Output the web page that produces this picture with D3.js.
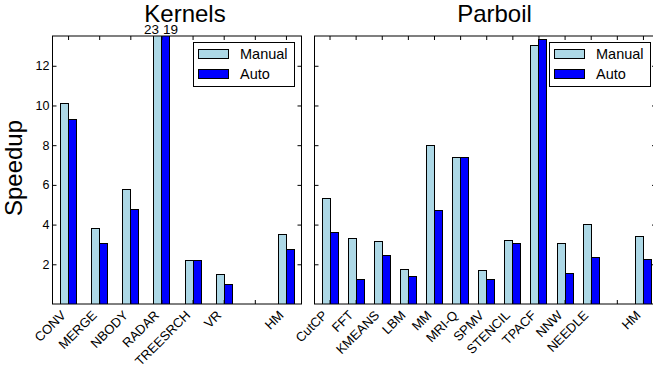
<!DOCTYPE html>
<html>
<head>
<meta charset="utf-8">
<script src="https://cdn.jsdelivr.net/npm/d3@7"></script>
<style>
  body { margin: 0; background: #fff; }
  svg { font-family: "Liberation Sans", Arial, Helvetica, sans-serif; }
</style>
</head>
<body>
<div id="chart"></div>
<script>
// kernels panel
var kernelNames = ["CONV", "MERGE", "NBODY", "RADAR", "TREESRCH", "VR", "", "HM"];
var kernelManual = [10.14, 3.85, 5.81, 23, 2.21, 1.49, 0, 3.53];
var kernelAuto = [9.33, 3.05, 4.81, 19, 2.21, 0.99, 0, 2.78];

// parboil panel
var parboilNames = ["CutCP", "FFT", "KMEANS", "LBM", "MM", "MRI-Q", "SPMV", "STENCIL", "TPACF", "NNW", "NEEDLE", "", "HM"];
var parboilManual = [5.36, 3.30, 3.17, 1.74, 8.01, 7.40, 1.72, 3.22, 13.05, 3.05, 4.02, 0, 3.45];
var parboilAuto = [3.62, 1.26, 2.45, 1.42, 4.76, 7.40, 1.27, 3.08, 13.35, 1.54, 2.36, 0, 2.28];

var yTicks = [2, 4, 6, 8, 10, 12];
var seriesNames = ["Manual", "Auto"];
var seriesColors = ["#add8e6", "#0000ff"];

var w = 653, h = 368;
var plotTop = 36, plotBottom = 304;
var barW = 8;

var svg = d3.select("#chart").append("svg")
    .attr("width", w)
    .attr("height", h);

var yScale = d3.scaleLinear()
    .domain([0, 13.5])
    .range([plotBottom, plotTop]);

// one panel = one set of axes
function panel(names, manual, auto, x0, x1, dom, title, titleX, legendX, showYLabels) {
  var xScale = d3.scaleLinear()
      .domain(dom)
      .range([x0, x1]);

  var g = svg.append("g");

  g.append("defs").append("clipPath")
      .attr("id", "clip-" + title)
    .append("rect")
      .attr("x", x0).attr("y", plotTop)
      .attr("width", x1 - x0).attr("height", plotBottom - plotTop);

  var bars = g.append("g").attr("clip-path", "url(#clip-" + title + ")");
  var idx = d3.range(names.length);

  [manual, auto].forEach(function(vals, s) {
    bars.selectAll(".b" + s)
        .data(idx.filter(function(i) { return vals[i] > 0; }))
        .enter()
        .append("rect")
        .attr("x", function(i) { return Math.round(xScale(i)) + 0.5 + (s == 0 ? -barW : 0); })
        .attr("y", function(i) { return Math.round(yScale(vals[i])) + 0.5; })
        .attr("width", barW)
        .attr("height", function(i) { return plotBottom - Math.round(yScale(vals[i])); })
        .attr("fill", seriesColors[s])
        .attr("stroke", "#000")
        .attr("stroke-width", 1);
  });

  // values that go past the top
  idx.forEach(function(i) {
    if (manual[i] > 13.5) {
      g.append("text").attr("x", xScale(i) - 2.5).attr("y", plotTop - 2.5)
        .attr("text-anchor", "end").attr("font-size", 13.5).text(manual[i]);
    }
    if (auto[i] > 13.5) {
      g.append("text").attr("x", xScale(i) + 1.5).attr("y", plotTop - 2.5)
        .attr("text-anchor", "start").attr("font-size", 13.5).text(auto[i]);
    }
  });

  // inward ticks on all sides
  var xb = d3.axisTop(xScale).tickValues(idx).tickSize(4).tickFormat("");
  g.append("g").attr("transform", "translate(0," + plotBottom + ")").call(xb);
  var xt = d3.axisBottom(xScale).tickValues(idx).tickSize(4).tickFormat("");
  g.append("g").attr("transform", "translate(0," + plotTop + ")").call(xt);
  var yl = d3.axisRight(yScale).tickValues(yTicks).tickSize(4).tickFormat("");
  g.append("g").attr("transform", "translate(" + x0 + ",0)").call(yl);
  var yr = d3.axisLeft(yScale).tickValues(yTicks).tickSize(4).tickFormat("");
  g.append("g").attr("transform", "translate(" + x1 + ",0)").call(yr);
  g.selectAll(".domain").remove();

  g.append("rect")
      .attr("x", x0).attr("y", plotTop)
      .attr("width", x1 - x0).attr("height", plotBottom - plotTop)
      .attr("fill", "none").attr("stroke", "#000").attr("stroke-width", 1);

  if (showYLabels) {
    g.selectAll(".ylab")
        .data(yTicks)
        .enter()
        .append("text")
        .attr("x", x0 - 3)
        .attr("y", function(d) { return yScale(d); })
        .attr("dy", "0.35em")
        .attr("text-anchor", "end")
        .attr("font-size", 12.5)
        .text(function(d) { return d; });
  }

  g.selectAll(".xlab")
      .data(idx)
      .enter()
      .append("text")
      .attr("text-anchor", "end")
      .attr("font-size", 13)
      .attr("transform", function(i) {
        return "translate(" + (xScale(i) - 1.5) + "," + (plotBottom + 12) + ") rotate(-45)";
      })
      .text(function(i) { return names[i]; });

  g.append("text")
      .attr("x", titleX).attr("y", 22)
      .attr("text-anchor", "middle")
      .attr("font-size", 24)
      .text(title);

  // legend
  var lg = g.append("g").attr("transform", "translate(" + legendX + ",42)");
  lg.append("rect").attr("x", 0.5).attr("y", 0.5).attr("width", 101).attr("height", 44)
    .attr("fill", "#fff").attr("stroke", "#000").attr("stroke-width", 1);
  seriesNames.forEach(function(n, s) {
    lg.append("rect").attr("x", 5.5).attr("y", 7.5 + s * 20).attr("width", 30).attr("height", 9)
      .attr("fill", seriesColors[s]).attr("stroke", "#000").attr("stroke-width", 1);
    lg.append("text").attr("x", 47).attr("y", 12 + s * 20).attr("dy", "0.35em")
      .attr("font-size", 14.5).text(n);
  });
}

panel(kernelNames, kernelManual, kernelAuto, 52.5, 301.5, [-0.5, 7.5], "Kernels", 185, 193, true);
panel(parboilNames, parboilManual, parboilAuto, 314.5, 656, [-0.575, 12.5], "Parboil", 494.5, 549, false);

svg.append("text")
    .attr("transform", "translate(22,168) rotate(-90)")
    .attr("text-anchor", "middle")
    .attr("font-size", 24)
    .text("Speedup");
</script>
</body>
</html>
